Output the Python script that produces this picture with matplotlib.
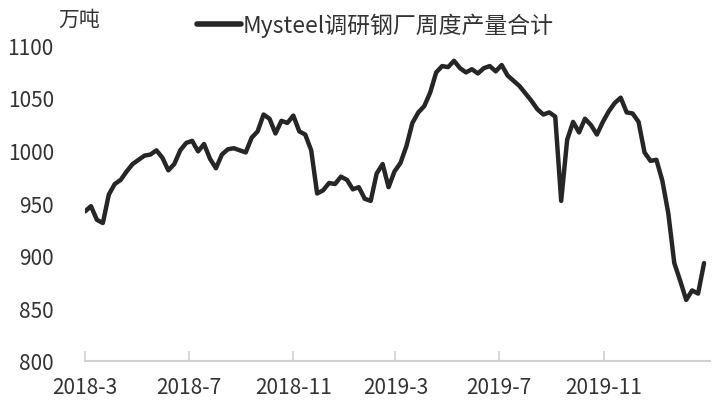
import matplotlib
matplotlib.use("Agg")
import matplotlib.pyplot as plt
import pandas as pd

plt.rcParams['font.family'] = ['Noto Sans CJK SC', 'DejaVu Sans']

# Mysteel调研钢厂周度产量合计, 周度数据 (万吨)
start = "2018-03-01"
values = [942, 947, 934, 931, 958, 968, 972, 980, 987, 991,
          995, 996, 1000, 993, 981, 987, 1000, 1007, 1009, 999,
          1006, 992, 983, 996, 1001, 1002, 1000, 998, 1012, 1018,
          1034, 1030, 1016, 1028, 1026, 1033, 1018, 1015, 1000, 959,
          962, 969, 968, 975, 972, 963, 965, 954, 952, 978,
          987, 965, 980, 988, 1004, 1026, 1036, 1042, 1055, 1074,
          1080, 1079, 1085, 1078, 1074, 1077, 1073, 1078, 1080, 1075,
          1081, 1071, 1066, 1061, 1054, 1047, 1039, 1034, 1036, 1032,
          952, 1010, 1027, 1017, 1030, 1024, 1015, 1027, 1037, 1045,
          1050, 1036, 1035, 1027, 998, 990, 991, 971, 940, 893,
          876, 858, 867, 864, 893]
dates = pd.date_range(start, periods=len(values), freq="7D")

tick_dates = pd.to_datetime(["2018-03-01", "2018-07-01", "2018-11-01",
                             "2019-03-01", "2019-07-01", "2019-11-01"])
tick_labels = ["2018-3", "2018-7", "2018-11", "2019-3", "2019-7", "2019-11"]
y_ticks = [800, 850, 900, 950, 1000, 1050, 1100]

fig = plt.figure(figsize=(7.19, 4.10), dpi=100)
ax = fig.add_axes([85 / 719, (410 - 362) / 410, (710 - 85) / 719, (362 - 46) / 410])

ax.plot(dates, values, color="#262626", linewidth=3.2,
        solid_joinstyle="round", solid_capstyle="round",
        label="Mysteel调研钢厂周度产量合计")

ax.set_ylim(800, 1100)
ax.set_xlim(pd.Timestamp("2018-03-01"), pd.Timestamp("2020-03-05"))
ax.set_yticks(y_ticks)
ax.set_xticks(tick_dates)
ax.set_xticklabels(tick_labels)

for s in ["left", "right", "top"]:
    ax.spines[s].set_visible(False)
ax.spines["bottom"].set_color("#d0d0d0")
ax.spines["bottom"].set_linewidth(1.5)
ax.tick_params(axis="y", length=0, pad=22.5, labelsize=15, colors="#333333")
ax.tick_params(axis="x", direction="in", length=7, width=1.2, color="#d0d0d0",
               pad=10.5, labelsize=15, labelcolor="#333333")

fig.text(58 / 719, 1 - 20 / 410, "万吨", fontsize=15, color="#333333",
         ha="left", va="center")
leg = fig.legend(loc="center left", bbox_to_anchor=(197 / 719, 1 - 26 / 410),
                 frameon=False, borderpad=0, borderaxespad=0,
                 fontsize=16.5, handlelength=1.9, handletextpad=0.1,
                 labelcolor="#333333")
for h in leg.get_lines():
    h.set_linewidth(4.0)

fig.savefig("out.png", dpi=100, facecolor="white")
